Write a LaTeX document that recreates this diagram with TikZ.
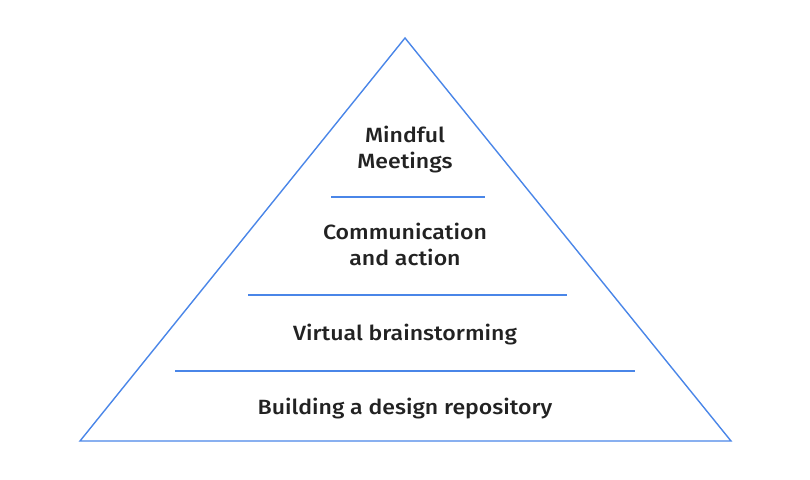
\documentclass[tikz,border=0pt]{standalone}
\usepackage{fontspec}
\setmainfont{Fira Sans}[UprightFont={* Medium}, FakeStretch=1.12]
\usepackage{tikz}
\usetikzlibrary{positioning}

\definecolor{pyrblue}{HTML}{4A86E8}
\definecolor{pyrtext}{HTML}{222222}

\begin{document}
\begin{tikzpicture}[x=1pt, y=-1pt,
    edge/.style={draw=pyrblue, line width=1.4pt},
    tier/.style={text=pyrtext, align=center, font=\fontsize{20.6}{26}\selectfont, inner sep=0pt}]
    \useasboundingbox (0,0) rectangle (810,479);
    % pyramid outline
    \coordinate (apex) at (405,38);
    \coordinate (baseL) at (80,441);
    \coordinate (baseR) at (731,441);
    \draw[edge, line join=miter] (apex) -- (baseR) -- (baseL) -- cycle;
    % dividers
    \coordinate (d1L) at (331,197);
    \coordinate (d1R) at (485,197);
    \coordinate (d2L) at (248,295);
    \coordinate (d2R) at (567,295);
    \coordinate (d3L) at (175,371);
    \coordinate (d3R) at (635,371);
    \draw[edge] (d1L) -- (d1R);
    \draw[edge] (d2L) -- (d2R);
    \draw[edge] (d3L) -- (d3R);
    % tiers
    \node[tier] (meet) at (405,150) {Mindful\\Meetings};
    \node[tier] (comm) at (405,244) {Communication\\and action};
    \node[tier] (brain) at (405,334.5) {Virtual brainstorming};
    \node[tier] (repo) at (405,409) {Building a design repository};
\end{tikzpicture}
\end{document}
